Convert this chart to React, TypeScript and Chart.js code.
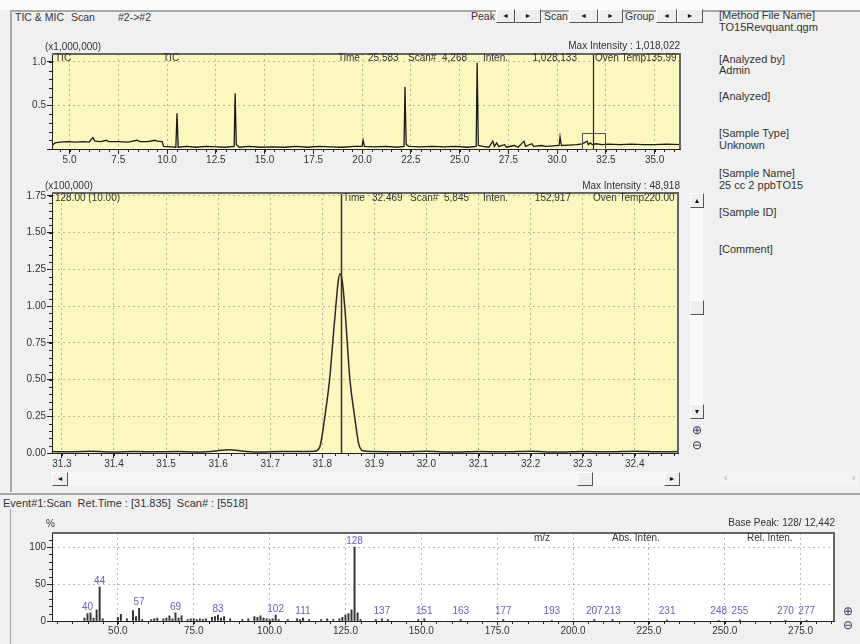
import React, { useEffect, useRef } from 'react';
import { Chart, registerables } from 'chart.js';
Chart.register(...registerables);

const FONT = '"Liberation Sans", Arial, sans-serif';

// ---------- TIC (x1,000,000) ----------
const ticTime = [4.1, 4.25, 4.5, 4.9, 5.3, 5.7, 6.0, 6.2, 6.3, 6.6, 6.9, 7.0, 7.5, 8.0, 8.46, 8.6, 9.0, 9.38, 9.5, 9.75,
  9.82, 10.2, 10.45, 10.51, 10.57, 11.0, 11.5, 12.0, 12.5, 13.0, 13.44, 13.49, 13.55, 13.7, 14.2, 14.8, 15.4, 16.0, 16.6,
  17.2, 17.8, 18.4, 19.0, 19.6, 20.0, 20.05, 20.12, 20.6, 21.2, 21.8, 22.15, 22.2, 22.26, 22.4, 23.0, 23.6, 24.2, 24.8,
  25.4, 25.85, 25.9, 25.96, 26.2, 26.5, 26.7, 26.78, 26.9, 27.0, 27.3, 27.4, 27.8, 28.0, 28.3, 28.38, 28.7, 28.8, 29.2,
  29.4, 29.8, 30.1, 30.15, 30.22, 30.6, 31.0, 31.3, 31.54, 31.6, 31.7, 31.8, 32.0, 32.3, 32.6, 33.2, 33.8, 34.4, 35.0,
  35.6, 36.3];
const ticInten = [0.04, 0.07, 0.08, 0.085, 0.08, 0.085, 0.08, 0.13, 0.09, 0.085, 0.1, 0.085, 0.085, 0.08, 0.1, 0.085,
  0.085, 0.1, 0.09, 0.085, 0.03, 0.025, 0.02, 0.41, 0.02, 0.03, 0.02, 0.03, 0.025, 0.02, 0.03, 0.64, 0.05, 0.02, 0.03,
  0.02, 0.025, 0.02, 0.03, 0.02, 0.03, 0.025, 0.02, 0.03, 0.03, 0.1, 0.03, 0.025, 0.03, 0.02, 0.03, 0.71, 0.05, 0.03,
  0.025, 0.03, 0.025, 0.03, 0.02, 0.03, 0.99, 0.04, 0.03, 0.02, 0.09, 0.03, 0.07, 0.03, 0.05, 0.02, 0.04, 0.02, 0.09,
  0.03, 0.06, 0.03, 0.04, 0.03, 0.035, 0.04, 0.14, 0.04, 0.045, 0.05, 0.06, 0.09, 0.05, 0.07, 0.05, 0.06, 0.05, 0.055,
  0.05, 0.055, 0.05, 0.05, 0.055, 0.05];

// ---------- MIC 128.00 (x100,000) ----------
const micTime = [31.281, 31.32, 31.36, 31.4, 31.44, 31.48, 31.52, 31.56, 31.59, 31.62, 31.65, 31.68, 31.72, 31.76,
  31.785, 31.795, 31.805, 31.814, 31.82, 31.826, 31.831, 31.834, 31.838, 31.843, 31.848, 31.853, 31.862, 31.87, 31.878,
  31.9, 31.95, 32.0, 32.05, 32.1, 32.15, 32.2, 32.25, 32.3, 32.35, 32.4, 32.45, 32.483];
const micInten = [0.01, 0.008, 0.012, 0.006, 0.01, 0.008, 0.01, 0.006, 0.012, 0.022, 0.012, 0.006, 0.01, 0.01,
  0.012, 0.04, 0.25, 0.5, 0.75, 1.0, 1.18, 1.22, 1.18, 1.0, 0.75, 0.5, 0.25, 0.06, 0.015,
  0.01, 0.008, 0.012, 0.006, 0.01, 0.008, 0.012, 0.006, 0.01, 0.008, 0.012, 0.008, 0.01];

// ---------- Mass spectrum (rel. %) ----------
const specMz = [39, 40, 41, 42, 43, 44, 45, 50, 51, 53, 55, 56, 57, 58, 61, 62, 63, 65, 66, 67, 68, 69, 70, 71, 73, 74,
  75, 76, 77, 78, 79, 81, 82, 83, 84, 85, 87, 91, 93, 95, 96, 97, 98, 99, 100, 101, 102, 103, 106, 109, 110, 111, 113,
  117, 119, 121, 123, 124, 125, 126, 127, 128, 129, 130, 135, 137, 139, 149, 151, 163, 177, 193, 207, 213, 231, 248,
  255, 270, 277];
const specRel = [4, 10, 11, 4, 15, 46, 3, 5, 9, 3, 14, 6, 17, 2, 2, 3, 4, 3, 4, 7, 3, 11, 4, 7, 2, 3,
  3, 2, 3, 2, 3, 5, 6, 8, 4, 6, 3, 2, 3, 6, 5, 7, 4, 3, 2, 3, 8, 2, 2, 3, 2, 4, 2,
  2, 3, 2, 3, 5, 8, 10, 15, 100, 11, 2, 2, 3, 2, 2, 3, 2, 2, 1, 2, 2, 1.5, 1,
  1.5, 1, 1];
const specLabeled = [40, 44, 57, 69, 83, 102, 111, 128, 137, 151, 163, 177, 193, 207, 213, 231, 248, 255, 270, 277];

const GRID = 'rgba(120,120,100,0.5)';

type Deco = {
  bg: string;
  minorX?: number;
  minorY?: number;
  vlines?: { x: number; color: string; width: number }[];
  rects?: { x0: number; x1: number; y0: number; y1: number }[];
  peakLabels?: boolean;
};

function makeDeco(d: Deco) {
  return {
    id: 'deco',
    beforeDraw(chart: any) {
      const { ctx, chartArea: a } = chart;
      ctx.save();
      ctx.fillStyle = d.bg;
      ctx.fillRect(a.left, a.top, a.right - a.left, a.bottom - a.top);
      ctx.restore();
    },
    afterDraw(chart: any) {
      const { ctx, chartArea: a, scales } = chart;
      const xs = scales.x, ys = scales.y;
      ctx.save();
      (d.vlines || []).forEach((v) => {
        const px = Math.round(xs.getPixelForValue(v.x)) + 0.5;
        ctx.strokeStyle = v.color;
        ctx.lineWidth = v.width;
        ctx.beginPath();
        ctx.moveTo(px, a.top);
        ctx.lineTo(px, a.bottom);
        ctx.stroke();
      });
      (d.rects || []).forEach((r) => {
        const x0 = Math.round(xs.getPixelForValue(r.x0)) + 0.5;
        const x1 = Math.round(xs.getPixelForValue(r.x1)) + 0.5;
        const y0 = Math.round(ys.getPixelForValue(r.y0)) + 0.5;
        const y1 = Math.round(ys.getPixelForValue(r.y1)) + 0.5;
        ctx.strokeStyle = '#555';
        ctx.lineWidth = 1;
        ctx.strokeRect(x0, y1, x1 - x0, y0 - y1);
      });
      ctx.strokeStyle = '#666';
      ctx.lineWidth = 2;
      ctx.beginPath();
      ctx.moveTo(a.left, a.top);
      ctx.lineTo(a.right, a.top);
      ctx.lineTo(a.right, a.bottom);
      ctx.stroke();
      ctx.strokeStyle = '#222';
      ctx.lineWidth = 1;
      ctx.beginPath();
      if (d.minorX) {
        const k0 = Math.ceil(xs.min / d.minorX - 1e-9), k1 = Math.floor(xs.max / d.minorX + 1e-9);
        for (let k = k0; k <= k1; k++) {
          const px = Math.round(xs.getPixelForValue(k * d.minorX)) + 0.5;
          ctx.moveTo(px, a.bottom);
          ctx.lineTo(px, a.bottom + 3);
        }
      }
      if (d.minorY) {
        const k0 = Math.ceil(ys.min / d.minorY - 1e-9), k1 = Math.floor(ys.max / d.minorY + 1e-9);
        for (let k = k0; k <= k1; k++) {
          const py = Math.round(ys.getPixelForValue(k * d.minorY)) + 0.5;
          ctx.moveTo(a.left, py);
          ctx.lineTo(a.left - 3, py);
        }
      }
      ctx.stroke();
      if (d.peakLabels) {
        ctx.font = '10px ' + FONT;
        ctx.fillStyle = '#6a5cc4';
        ctx.textAlign = 'center';
        ctx.textBaseline = 'bottom';
        const base = ys.getPixelForValue(0);
        specLabeled.forEach((mz) => {
          const i = specMz.indexOf(mz);
          if (i < 0) return;
          const py = Math.min(ys.getPixelForValue(specRel[i]), base - 4) - 1;
          ctx.fillText(String(mz), xs.getPixelForValue(mz), py);
        });
      }
      ctx.restore();
    },
  };
}

function axis(min: number, max: number, step: number, fmt: (v: number) => string, dir: 'x' | 'y', size: number, tickLen = 5) {
  return {
    type: 'linear',
    min,
    max,
    offset: false,
    afterFit: (s: any) => {
      if (dir === 'x') s.height = size;
      else s.width = size;
    },
    ticks: {
      stepSize: step,
      maxTicksLimit: 200,
      autoSkip: false,
      maxRotation: 0,
      minRotation: 0,
      includeBounds: false,
      color: '#333',
      font: { family: FONT, size: 10 },
      padding: dir === 'x' ? 0 : 1,
      callback: (v: any) => fmt(Number(v)),
    },
    grid: { color: GRID, tickColor: '#222', tickLength: tickLen, offset: false, drawOnChartArea: true },
    border: { color: '#222', width: 1, dash: [2, 3] },
  };
}

function ChartBox({ left, top, width, height, make }: { left: number; top: number; width: number; height: number; make: () => any }) {
  const ref = useRef<HTMLCanvasElement | null>(null);
  useEffect(() => {
    if (!ref.current) return;
    const chart = new Chart(ref.current, make());
    return () => chart.destroy();
  }, []);
  return (
    <canvas ref={ref} width={width} height={height}
      style={{ position: 'absolute', left, top, width, height }} />
  );
}

const baseOpts = (padTop: number, padRight: number) => ({
  responsive: false,
  animation: false,
  events: [],
  layout: { padding: { top: padTop, right: padRight, left: 0, bottom: 0 } },
  plugins: { legend: { display: false }, tooltip: { enabled: false } },
});

function ticConfig() {
  return {
    type: 'line',
    data: {
      datasets: [{
        data: ticTime.map((t, i) => ({ x: t, y: ticInten[i] })),
        borderColor: '#1a1a1a', borderWidth: 1.3, pointRadius: 0, tension: 0,
      }],
    },
    options: {
      ...baseOpts(14, 10),
      scales: {
        x: axis(4.1, 36.3, 2.5, (v) => v.toFixed(1), 'x', 21),
        y: axis(0, 1.09, 0.5, (v) => (v === 0 ? '' : v.toFixed(1)), 'y', 42),
      },
    },
    plugins: [makeDeco({
      bg: '#fbf8bf', minorX: 0.5, minorY: 0.1,
      vlines: [{ x: 31.835, color: '#222', width: 1.2 }],
      rects: [{ x0: 31.28, x1: 32.48, y0: 0, y1: 0.18 }],
    })],
  };
}

function micConfig() {
  return {
    type: 'line',
    data: {
      datasets: [{
        data: micTime.map((t, i) => ({ x: t, y: micInten[i] })),
        borderColor: '#2a2a2a', borderWidth: 1.5, pointRadius: 0, cubicInterpolationMode: 'monotone',
      }],
    },
    options: {
      ...baseOpts(13, 12),
      scales: {
        x: axis(31.281, 32.483, 0.1, (v) => v.toFixed(1), 'x', 22),
        y: axis(0, 1.77, 0.25, (v) => v.toFixed(2), 'y', 42),
      },
    },
    plugins: [makeDeco({
      bg: '#fbf8bf', minorX: 0.025, minorY: 0.05,
      vlines: [{ x: 31.835, color: '#333', width: 1.5 }],
    })],
  };
}

function specConfig() {
  return {
    type: 'bar',
    data: {
      datasets: [{
        data: specMz.map((m, i) => ({ x: m, y: specRel[i] })),
        backgroundColor: '#333333', barThickness: 1.3, borderWidth: 0,
      }],
    },
    options: {
      ...baseOpts(13, 10),
      scales: {
        x: { ...axis(28.3, 286, 25, (v) => v.toFixed(1), 'x', 23, 4), grid: { color: GRID, tickColor: '#222', tickLength: 4, offset: false } },
        y: axis(0, 119, 50, (v) => String(v), 'y', 42),
      },
    },
    plugins: [makeDeco({ bg: '#ffffff', minorX: 5, minorY: 10, peakLabels: true })],
  };
}

function T({ x, y, children, right, size = 10, color = '#333', w }: any) {
  const style: any = {
    position: 'absolute', top: y - 7, lineHeight: '14px', fontSize: size, color,
    whiteSpace: 'nowrap', fontFamily: FONT,
  };
  if (right) style.right = 860 - x; else style.left = x;
  if (w) { style.width = w; style.overflow = 'hidden'; }
  return <div style={style}>{children}</div>;
}

function Btn({ x, y, w = 15, h = 14, ch }: any) {
  return (
    <div style={{
      position: 'absolute', left: x, top: y, width: w, height: h, boxSizing: 'border-box',
      borderRight: '1px solid #555', borderBottom: '1px solid #555', borderTop: '1px solid #fff', borderLeft: '1px solid #fff',
      background: '#efefef', fontSize: 7, lineHeight: h - 2 + 'px', textAlign: 'center', color: '#111', fontFamily: FONT,
    }}>{ch}</div>
  );
}

function Line({ x, y, w, h, c = '#9a9a9a' }: any) {
  return <div style={{ position: 'absolute', left: x, top: y, width: w, height: h, background: c }} />;
}

export default function App() {
  return (
    <div style={{ position: 'absolute', left: 0, top: 0, width: 860, height: 644, background: '#f0f0f0', overflow: 'hidden', fontFamily: FONT }}>
      <div style={{ position: 'absolute', left: 0, top: 0, width: 860, height: 10, background: '#fbfbfb' }} />
      <Line x={10} y={10} w={850} h={2} c="#a8a8a8" />
      <Line x={10} y={10} w={2} h={482} c="#a8a8a8" />
      <Line x={0} y={493} w={860} h={2} c="#a8a8a8" />
      <Line x={10} y={509} w={1} h={135} c="#a8a8a8" />

      {/* header */}
      <T x={15} y={17} size={10.5}>TIC &amp; MIC</T>
      <T x={71} y={17} size={10.5}>Scan</T>
      <T x={118} y={17} size={10.5}>#2-&gt;#2</T>
      <T x={471} y={16} size={10.5}>Peak</T>
      <Btn x={496} y={9} w={19} ch="◄" />
      <Btn x={515} y={9} w={26} ch="►" />
      <T x={544} y={16} size={10.5}>Scan</T>
      <Btn x={569} y={9} w={29} ch="◄" />
      <Btn x={598} y={9} w={25} ch="►" />
      <T x={625} y={16} size={10.5}>Group</T>
      <Btn x={656} y={9} w={21} ch="◄" />
      <Btn x={677} y={9} w={26} ch="►" />

      {/* right info panel */}
      <T x={719} y={15} size={11}>[Method File Name]</T>
      <T x={719} y={27} size={11}>TO15Revquant.qgm</T>
      <T x={719} y={59} size={11}>[Analyzed by]</T>
      <T x={719} y={70} size={11}>Admin</T>
      <T x={719} y={96} size={11}>[Analyzed]</T>
      <T x={719} y={133} size={11}>[Sample Type]</T>
      <T x={719} y={145} size={11}>Unknown</T>
      <T x={719} y={173} size={11}>[Sample Name]</T>
      <T x={719} y={185} size={11}>25 cc 2 ppbTO15</T>
      <T x={719} y={212} size={11}>[Sample ID]</T>
      <T x={719} y={249} size={11}>[Comment]</T>
      <div style={{ position: 'absolute', left: 720, top: 471, width: 138, height: 15, background: '#f4f4f4' }} />
      <T x={724} y={478} color="#aaa">‹</T>
      <T x={852} y={478} color="#aaa">›</T>

      {/* top TIC chart */}
      <ChartBox left={10} top={40} width={680} height={130} make={ticConfig} />
      <T x={45} y={47}>(x1,000,000)</T>
      <T x={680} y={46} right>Max Intensity : 1,018,022</T>
      <T x={55} y={58}>TIC</T>
      <T x={163} y={58}>TIC</T>
      <T x={338} y={58}>Time</T>
      <T x={368} y={58}>25.583</T>
      <T x={408} y={58}>Scan#</T>
      <T x={442} y={58}>4,268</T>
      <T x={483} y={58}>Inten.</T>
      <T x={577} y={58} right>1,028,133</T>
      <T x={595} y={58} w={84}>Oven Temp135.99</T>

      {/* middle MIC chart */}
      <ChartBox left={10} top={180} width={680} height={295} make={micConfig} />
      <T x={45} y={186}>(x100,000)</T>
      <T x={680} y={186} right>Max Intensity : 48,918</T>
      <T x={55} y={198}>128.00 (10.00)</T>
      <T x={343} y={198}>Time</T>
      <T x={372} y={198}>32.469</T>
      <T x={410} y={198}>Scan#</T>
      <T x={444} y={198}>5,845</T>
      <T x={483} y={198}>Inten.</T>
      <T x={571} y={198} right>152,917</T>
      <T x={593} y={198} w={85}>Oven Temp220.00</T>

      {/* vertical scrollbar */}
      <div style={{ position: 'absolute', left: 690, top: 193, width: 13, height: 225, background: '#fafafa' }} />
      <Btn x={690} y={193} w={14} h={15} ch="▲" />
      <Btn x={690} y={300} w={14} h={15} ch="" />
      <Btn x={690} y={404} w={14} h={15} ch="▼" />
      <div style={{ position: 'absolute', left: 689, top: 423, width: 15, height: 34, color: '#335', fontSize: 12, lineHeight: '15px', textAlign: 'center' }}>⊕<br />⊖</div>

      {/* horizontal scrollbar */}
      <div style={{ position: 'absolute', left: 52, top: 472, width: 628, height: 14, background: '#f6f6f6' }} />
      <Btn x={52} y={472} w={16} h={14} ch="◄" />
      <Btn x={577} y={472} w={16} h={14} ch="" />
      <Btn x={664} y={472} w={16} h={14} ch="►" />

      {/* bottom spectrum */}
      <T x={3} y={503} size={11}>Event#1:Scan&nbsp; Ret.Time : [31.835]&nbsp; Scan# : [5518]</T>
      <ChartBox left={10} top={520} width={834} height={124} make={specConfig} />
      <T x={46} y={524}>%</T>
      <T x={835} y={523} right>Base Peak: 128/ 12,442</T>
      <T x={534} y={538}>m/z</T>
      <T x={612} y={538}>Abs. Inten.</T>
      <T x={747} y={538}>Rel. Inten.</T>
      <div style={{ position: 'absolute', left: 840, top: 604, width: 16, height: 30, color: '#335', fontSize: 12, lineHeight: '14px', textAlign: 'center' }}>⊕<br />⊖</div>
    </div>
  );
}
